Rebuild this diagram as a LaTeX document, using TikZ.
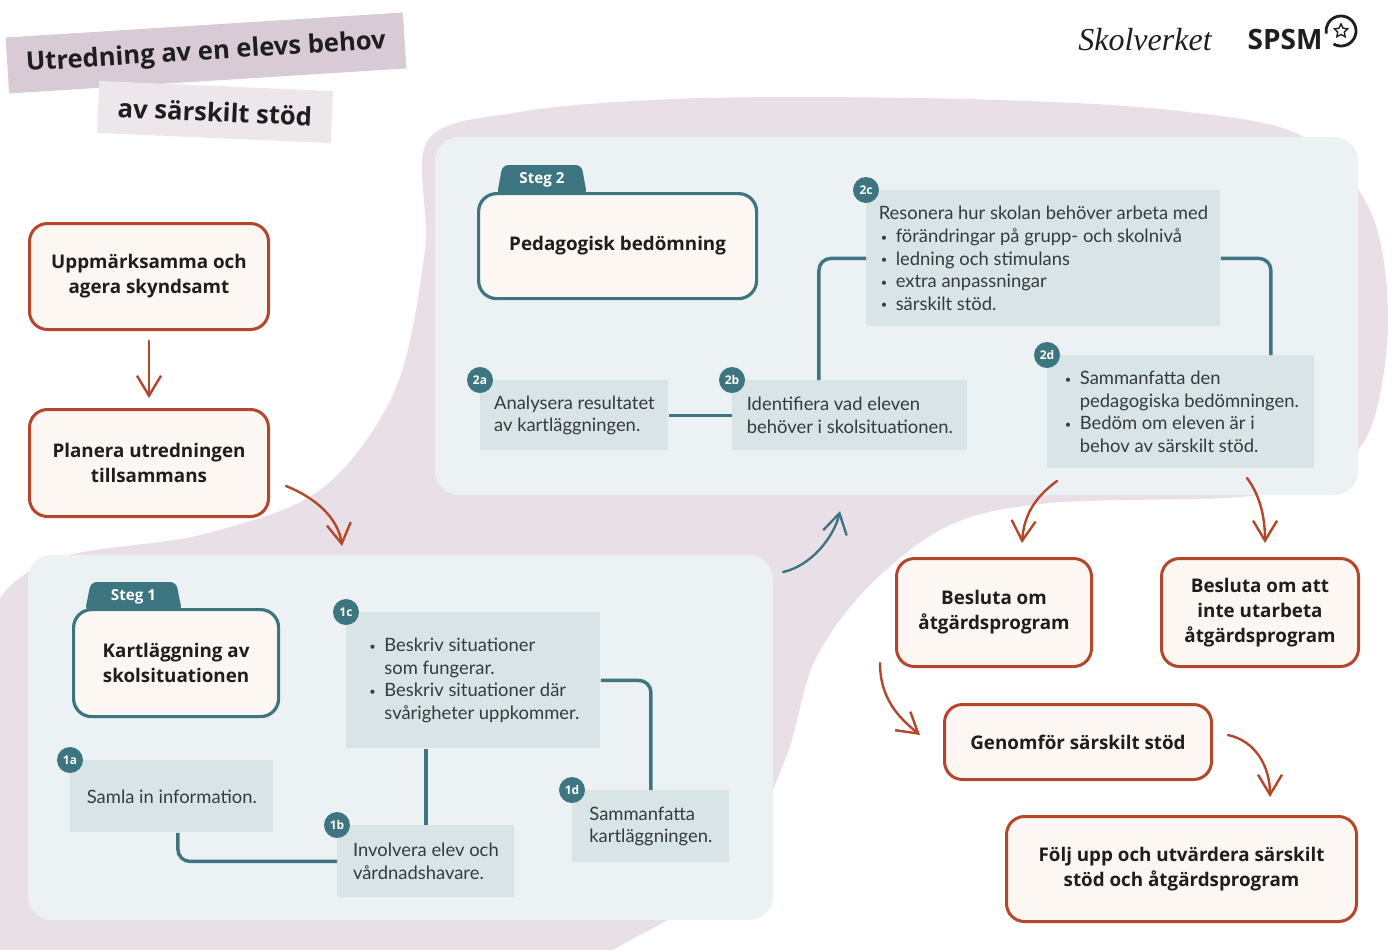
\documentclass[tikz,border=0pt]{standalone}
\usepackage{fontspec}
\setmainfont{Lato}
\newfontfamily\headfont{Open Sans}
\newfontfamily\logofont{Liberation Serif}
\usepackage{tikz}
\usetikzlibrary{arrows.meta, shapes.geometric}
\definecolor{blob}{HTML}{E9DFE7}
\definecolor{titlebg}{HTML}{D8CBD5}
\definecolor{titlebgb}{HTML}{EDE6EB}
\definecolor{panel}{HTML}{ECF2F3}
\definecolor{boxfill}{HTML}{D9E4E7}
\definecolor{petrol}{HTML}{3D7581}
\definecolor{cream}{HTML}{FCF7F2}
\definecolor{rust}{HTML}{B4472B}
\definecolor{ink}{HTML}{1E1E1E}
\definecolor{bodyink}{HTML}{363A3C}

% bullets inside the grey boxes
\newcommand{\listdot}{\hspace*{1pt}\makebox[7.5pt][l]{\raisebox{0.15ex}{\scalebox{0.6}{\textbullet}}}}
\newcommand{\listgap}{\hspace*{8.5pt}}

\tikzset{
  actbox/.style={draw=rust, line width=1.5pt, fill=cream, rounded corners=9pt, anchor=north west,
    align=center, text=ink, font=\headfont\bfseries\fontsize{9.4}{12.5}\selectfont},
  stepbox/.style={draw=petrol, line width=1.6pt, fill=cream, rounded corners=9pt, anchor=north west,
    align=center, text=ink, font=\headfont\bfseries\fontsize{9.4}{12.5}\selectfont},
  steptab/.style={trapezium, trapezium left angle=78, trapezium right angle=78, trapezium stretches=true,
    fill=petrol, rounded corners=3pt, text=white, inner sep=0pt, font=\headfont\bfseries\fontsize{7.6}{8}\selectfont},
  infobox/.style={fill=boxfill, anchor=north west, align=left, inner sep=0pt, text=bodyink,
    font=\fontsize{9.2}{11.3}\selectfont},
  badge/.style={circle, fill=petrol, text=white, inner sep=0pt, minimum size=13pt,
    font=\headfont\bfseries\fontsize{6}{6}\selectfont},
  panelbg/.style={fill=panel, rounded corners=12pt},
  link/.style={draw=petrol, line width=1.7pt, rounded corners=6pt},
  flow/.style={draw=rust, line width=1.2pt, line cap=round, -{Straight Barb[length=10pt,width=12pt]}},
  hop/.style={draw=petrol, line width=1.2pt, line cap=round, -{Straight Barb[length=10pt,width=12pt]}},
  titlebar/.style={text=ink, inner sep=0pt, font=\headfont\bfseries\fontsize{12.8}{14}\selectfont}
}

\begin{document}
\begin{tikzpicture}[x=0.5pt, y=-0.5pt]
      % Frame and background shape
      \useasboundingbox (0,0) rectangle (1392,949);
      \fill[white] (0,0) rectangle (1392,949);
      \begin{scope}
        \clip (0,0) rectangle (1392,949);
        \fill[blob] plot[smooth cycle, tension=0.55] coordinates {(428,140) (520,112) (650,100) (800,97)
          (1000,100) (1170,110) (1300,135) (1370,210) (1388,320) (1370,430) (1320,480) (1240,497)
          (1050,503) (950,525) (870,585) (815,660) (785,760) (730,870) (640,935) (550,960) (200,970)
          (-20,960) (-20,660) (40,565) (200,535) (320,490) (395,390) (425,250)};
      \end{scope}

      % Title and logos
      \node[titlebar, fill=titlebg, minimum width=199pt, minimum height=28pt, rotate=3.6] (title) at (206,53) {Utredning av en elevs behov};
      \node[titlebar, fill=titlebgb, minimum width=117pt, minimum height=26pt, rotate=-2.5] (subtitle) at (215,112) {av särskilt stöd};
      \node[text=ink, font=\logofont\itshape\fontsize{16}{18}\selectfont] (skolverket) at (1145,40) {Skolverket};
      \node[text=ink, font=\headfont\bfseries\fontsize{14}{16}\selectfont] (spsm) at (1285,39) {SPSM};
      \node[star, star points=5, star point ratio=2, draw=ink, line width=0.7pt, inner sep=0pt, minimum size=7pt] (spsmstar) at (1341,31) {};
      \draw[ink, line width=1.4pt] (spsmstar.center) ++(-120:7.5pt) arc[start angle=-120, end angle=190, radius=7.5pt];

      % Start of the process
      \node[actbox, minimum width=119.5pt, minimum height=53pt] (notice) at (28,222) {Uppmärksamma och\\agera skyndsamt};
      \node[actbox, minimum width=119.5pt, minimum height=53.5pt] (plan) at (28,408) {Planera utredningen\\tillsammans};
      \draw[flow, shorten <=5pt, shorten >=5pt] (notice) -- (plan);

      % Panels of the two steps
      \fill[panelbg] (28,555) rectangle (773,920);
      \fill[panelbg] (435,137) rectangle (1358,495);

      % Step 1
      \node[steptab, minimum width=48.5pt, minimum height=14.5pt] (tab1) at (133.5,596.5) {Steg 1};
      \node[stepbox, minimum width=102.5pt, minimum height=53.5pt] (survey) at (72,608) {Kartläggning av\\skolsituationen};
      \node[infobox, minimum width=101.5pt, minimum height=36pt] (s1a) at (70,760) {Samla in information.};
      \node[infobox, minimum width=88.5pt, minimum height=36pt] (s1b) at (337,825) {Involvera elev och\\vårdnadshavare.};
      \node[infobox, minimum width=127pt, minimum height=68pt] (s1c) at (346,612) {\listdot Beskriv situationer\\\listgap som fungerar.\\\listdot Beskriv situationer där\\\listgap svårigheter uppkommer.};
      \node[infobox, minimum width=78.5pt, minimum height=36pt] (s1d) at (572,790) {Sammanfatta\\kartläggningen.};
      \node[badge] (n1a) at (s1a.north west) {1a};
      \node[badge] (n1b) at (s1b.north west) {1b};
      \node[badge] (n1c) at (s1c.north west) {1c};
      \node[badge] (n1d) at (s1d.north west) {1d};
      \draw[link] ([xshift=3pt]s1a.south) |- (s1b.west);
      \draw[link] (s1b.north) -- (s1b.north |- s1c.south);
      \draw[link] (s1c.east) -| (s1d.north);

      % Step 2
      \node[steptab, minimum width=45pt, minimum height=15pt] (tab2) at (542,180) {Steg 2};
      \node[stepbox, minimum width=139pt, minimum height=52.5pt] (assess) at (477,192) {Pedagogisk bedömning};
      \node[infobox, minimum width=94pt, minimum height=35pt] (s2a) at (480,380) {Analysera resultatet\\av kartläggningen.};
      \node[infobox, minimum width=117.5pt, minimum height=35pt] (s2b) at (732,380) {Identifiera vad eleven\\behöver i skolsituationen.};
      \node[infobox, minimum width=177pt, minimum height=68pt] (s2c) at (866,190) {Resonera hur skolan behöver arbeta med\\\listdot förändringar på grupp- och skolnivå\\\listdot ledning och stimulans\\\listdot extra anpassningar\\\listdot särskilt stöd.};
      \node[infobox, minimum width=133.5pt, minimum height=56.5pt] (s2d) at (1047,355) {\listdot Sammanfatta den\\\listgap pedagogiska bedömningen.\\\listdot Bedöm om eleven är i\\\listgap behov av särskilt stöd.};
      \node[badge] (n2a) at (s2a.north west) {2a};
      \node[badge] (n2b) at (s2b.north west) {2b};
      \node[badge] (n2c) at (s2c.north west) {2c};
      \node[badge] (n2d) at (s2d.north west) {2d};
      \draw[link] (s2a) -- (s2b);
      \draw[link] ([xshift=-15.5pt]s2b.north) |- (s2c.west);
      \draw[link] (s2c.east) -| ([xshift=45pt]s2d.north);

      % Arrows between the parts
      \coordinate (p1) at (286,486);
      \coordinate (p2) at (342,546);
      \draw[flow] (p1) .. controls +(30,12) and +(-4,-28) .. (p2);
      \coordinate (q1) at (783,572);
      \coordinate (q2) at (840,511);
      \draw[hop] (q1) .. controls +(28,-6) and +(-6,26) .. (q2);

      % Decisions
      \node[actbox, minimum width=97.5pt, minimum height=54pt] (decide) at (895,557) {Besluta om\\åtgärdsprogram};
      \node[actbox, minimum width=98.5pt, minimum height=54pt] (decline) at (1160,557) {Besluta om att\\inte utarbeta\\åtgärdsprogram};
      \node[actbox, minimum width=133.5pt, minimum height=37.5pt] (support) at (943,703) {Genomför särskilt stöd};
      \node[actbox, minimum width=175pt, minimum height=52.5pt] (followup) at (1005,815) {Följ upp och utvärdera särskilt\\stöd och åtgärdsprogram};

      \coordinate (d1) at (1057,481);
      \coordinate (d2) at (1022,543);
      \draw[flow] (d1) .. controls +(-22,16) and +(2,-28) .. (d2);
      \coordinate (d3) at (1247,478);
      \coordinate (d4) at (1265,543);
      \draw[flow] (d3) .. controls +(12,16) and +(0,-28) .. (d4);
      \coordinate (e1) at (880,663);
      \coordinate (e2) at (920,735);
      \draw[flow] (e1) .. controls +(0,35) and +(-22,-18) .. (e2);
      \coordinate (e3) at (1228,735);
      \coordinate (e4) at (1270,797);
      \draw[flow] (e3) .. controls +(28,6) and +(0,-30) .. (e4);
\end{tikzpicture}
\end{document}
